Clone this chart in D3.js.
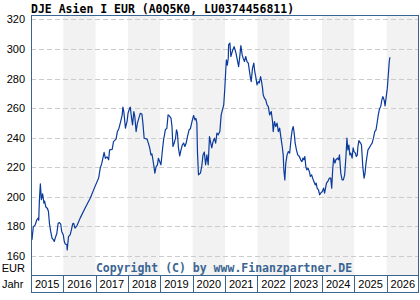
<!DOCTYPE html>
<html>
<head>
<meta charset="utf-8">
<script src="https://cdn.jsdelivr.net/npm/d3@7.9.0/dist/d3.min.js"></script>
<style>
  body { margin: 0; background: #fff; }
  svg { display: block; }
</style>
</head>
<body>
<div id="chart"></div>
<script>
// chart values (decimal year, price in EUR)
const years = [
  2015.03, 2015.07, 2015.13, 2015.18, 2015.22, 2015.24, 2015.26, 2015.29, 2015.32, 2015.36,
  2015.40, 2015.42, 2015.46, 2015.51, 2015.54, 2015.57, 2015.61, 2015.65, 2015.69, 2015.72,
  2015.75, 2015.80, 2015.84, 2015.88, 2015.92, 2015.95, 2016.00, 2016.03, 2016.06, 2016.11,
  2016.12, 2016.16, 2016.21, 2016.25, 2016.29, 2016.32, 2016.36, 2016.42, 2016.52, 2016.67,
  2016.83, 2016.98, 2017.09, 2017.14, 2017.19, 2017.26, 2017.30, 2017.35, 2017.40, 2017.43,
  2017.51, 2017.55, 2017.63, 2017.67, 2017.72, 2017.76, 2017.82, 2017.84, 2017.87, 2017.90,
  2017.92, 2017.97, 2018.00, 2018.05, 2018.07, 2018.11, 2018.14, 2018.18, 2018.21, 2018.25,
  2018.29, 2018.35, 2018.38, 2018.43, 2018.46, 2018.50, 2018.59, 2018.63, 2018.67, 2018.71,
  2018.74, 2018.77, 2018.81, 2018.83, 2018.87, 2018.91, 2018.94, 2018.98, 2019.02, 2019.06,
  2019.10, 2019.16, 2019.20, 2019.24, 2019.28, 2019.33, 2019.36, 2019.39, 2019.43, 2019.47,
  2019.50, 2019.53, 2019.56, 2019.60, 2019.64, 2019.68, 2019.72, 2019.76, 2019.80, 2019.84,
  2019.89, 2019.93, 2019.98, 2020.03, 2020.07, 2020.10, 2020.13, 2020.15, 2020.18, 2020.24,
  2020.28, 2020.32, 2020.36, 2020.40, 2020.44, 2020.48, 2020.52, 2020.55, 2020.59, 2020.63,
  2020.67, 2020.71, 2020.75, 2020.79, 2020.84, 2020.88, 2020.92, 2020.96, 2020.99, 2021.02,
  2021.04, 2021.07, 2021.10, 2021.11, 2021.15, 2021.18, 2021.21, 2021.24, 2021.28, 2021.32,
  2021.35, 2021.39, 2021.42, 2021.45, 2021.49, 2021.53, 2021.56, 2021.60, 2021.64, 2021.68,
  2021.72, 2021.75, 2021.78, 2021.81, 2021.85, 2021.89, 2021.92, 2021.95, 2021.99, 2022.03,
  2022.06, 2022.10, 2022.13, 2022.16, 2022.18, 2022.22, 2022.26, 2022.30, 2022.34, 2022.38,
  2022.43, 2022.47, 2022.49, 2022.53, 2022.57, 2022.61, 2022.65, 2022.69, 2022.73, 2022.77,
  2022.80, 2022.82, 2022.85, 2022.88, 2022.92, 2022.96, 2023.00, 2023.05, 2023.08, 2023.11,
  2023.14, 2023.17, 2023.21, 2023.25, 2023.30, 2023.34, 2023.38, 2023.41, 2023.44, 2023.47,
  2023.50, 2023.53, 2023.57, 2023.61, 2023.64, 2023.68, 2023.71, 2023.75, 2023.79, 2023.82,
  2023.85, 2023.89, 2023.93, 2023.96, 2024.01, 2024.05, 2024.08, 2024.11, 2024.14, 2024.18,
  2024.23, 2024.27, 2024.30, 2024.33, 2024.36, 2024.40, 2024.43, 2024.48, 2024.51, 2024.54,
  2024.58, 2024.62, 2024.66, 2024.70, 2024.74, 2024.77, 2024.80, 2024.83, 2024.86, 2024.89,
  2024.93, 2024.96, 2024.99, 2025.03, 2025.06, 2025.09, 2025.11, 2025.14, 2025.19, 2025.22,
  2025.26, 2025.30, 2025.33, 2025.36, 2025.39, 2025.42, 2025.46, 2025.51, 2025.55, 2025.59,
  2025.63, 2025.67, 2025.71, 2025.74, 2025.77, 2025.82, 2025.85, 2025.88, 2025.92, 2025.95,
  2025.98, 2026.02, 2026.05, 2026.08, 2026.10
];
const prices = [
  170.8, 179.4, 181.0, 184.4, 185.5, 184.0, 197.9, 208.7, 198.0, 202.0,
  195.7, 197.0, 193.0, 192.0, 190.0, 182.0, 176.5, 172.0, 171.0, 169.7,
  172.0, 175.3, 182.0, 182.5, 181.5, 176.5, 174.0, 169.7, 168.0, 167.5,
  164.0, 173.0, 174.2, 177.6, 181.7, 182.0, 178.7, 180.3, 185.5, 192.2,
  199.0, 207.0, 212.6, 219.3, 222.7, 230.0, 226.0, 227.0, 225.0, 231.7,
  232.0, 237.3, 239.0, 244.0, 246.4, 249.8, 255.4, 260.6, 257.6, 250.9,
  246.4, 251.0, 256.5, 260.0, 260.6, 253.2, 248.6, 257.6, 254.2, 244.1,
  249.8, 254.2, 256.5, 256.0, 249.8, 239.6, 239.0, 236.3, 233.0, 228.3,
  229.0, 225.0, 219.3, 216.0, 220.4, 221.6, 226.0, 223.8, 221.6, 230.6,
  238.5, 245.7, 246.0, 255.4, 254.7, 253.2, 247.5, 234.0, 236.3, 239.6,
  245.3, 243.0, 233.0, 227.7, 231.7, 235.0, 236.3, 234.0, 236.3, 240.7,
  245.3, 246.0, 250.9, 255.0, 252.0, 253.0, 249.8, 229.5, 214.8, 216.0,
  220.4, 228.3, 230.2, 221.6, 228.3, 221.6, 240.7, 237.3, 233.0, 237.3,
  239.6, 236.3, 243.0, 241.9, 244.1, 255.4, 258.8, 262.2, 272.3, 284.7,
  292.6, 289.0, 293.8, 302.8, 304.0, 294.9, 297.2, 299.4, 301.6, 298.7,
  296.0, 291.5, 288.0, 293.8, 302.3, 296.0, 293.8, 291.5, 294.9, 291.5,
  290.4, 285.8, 281.3, 277.9, 287.0, 290.4, 284.7, 281.3, 275.7, 277.9,
  277.0, 281.3, 278.0, 273.5, 269.0, 266.7, 265.5, 262.2, 261.0, 255.4,
  257.6, 250.9, 244.1, 250.9, 247.5, 249.8, 244.1, 246.4, 240.0, 234.0,
  228.3, 218.2, 211.4, 222.7, 228.3, 230.6, 229.5, 240.7, 245.3, 247.5,
  243.0, 236.3, 231.7, 228.3, 227.2, 225.0, 223.8, 226.1, 225.0, 227.2,
  220.4, 218.2, 219.3, 217.0, 213.7, 214.8, 212.6, 210.3, 208.0, 209.2,
  205.8, 204.7, 201.3, 202.4, 203.5, 205.8, 202.4, 205.8, 209.2, 210.3,
  212.6, 212.6, 205.8, 218.2, 226.1, 222.7, 225.0, 226.1, 225.0, 228.3,
  216.0, 211.4, 211.4, 214.8, 227.2, 239.6, 231.7, 235.0, 228.3, 229.5,
  226.1, 233.0, 230.6, 229.5, 227.2, 228.3, 234.0, 238.0, 236.3, 235.0,
  220.4, 212.6, 216.0, 222.7, 227.2, 231.7, 233.0, 235.0, 236.3, 239.6,
  244.1, 245.3, 250.9, 255.4, 258.8, 261.5, 265.5, 267.8, 265.5, 261.5,
  266.7, 273.5, 282.5, 291.5, 294.4
];
const yTicks = [160, 180, 200, 220, 240, 260, 280, 300, 320];
const yearLabels = ["2015", "2016", "2017", "2018", "2019", "2020", "2021",
  "2022", "2023", "2024", "2025", "2026"];

const title = "DJE Asien I EUR (A0Q5K0, LU0374456811)";
const copyright = "Copyright (C) by www.Finanzpartner.DE";

const width = 420, height = 300;
const margin = { top: 15, right: 1, bottom: 25, left: 31 };
const plotW = width - margin.left - margin.right;
const plotH = height - margin.top - margin.bottom;

const frameColor = "#3a6593";
const lineColor = "#0a3a9c";

function yearToDate(y) {
  const yr = Math.floor(y);
  const start = new Date(Date.UTC(yr, 0, 1));
  const end = new Date(Date.UTC(yr + 1, 0, 1));
  return new Date(start.getTime() + (y - yr) * (end - start));
}

const data = years.map((y, i) => ({ date: yearToDate(y), value: prices[i] }));

const x = d3.scaleUtc()
  .domain([new Date(Date.UTC(2015, 0, 1)), new Date(Date.UTC(2027, 0, 1))])
  .range([margin.left, margin.left + plotW]);

const y = d3.scaleLinear()
  .domain([147, 323])
  .range([margin.top + plotH, margin.top]);

const svg = d3.select("#chart")
  .append("svg")
  .attr("width", width)
  .attr("height", height)
  .style("font-family", "'Liberation Sans', Arial, sans-serif");

// year stripes (even years shaded)
const yearStarts = yearLabels.map((d) => new Date(Date.UTC(+d, 0, 1)));
svg.append("g")
  .selectAll("rect")
  .data(yearStarts)
  .join("rect")
  .attr("x", (d) => x(d))
  .attr("y", margin.top)
  .attr("width", (d) => x(d3.utcYear.offset(d, 1)) - x(d))
  .attr("height", plotH)
  .attr("fill", (d) => (d.getUTCFullYear() % 2 === 0 ? "#f2f2f2" : "#fff"));

// dashed grid
svg.append("g")
  .selectAll("line")
  .data(yTicks)
  .join("line")
  .attr("x1", margin.left)
  .attr("x2", margin.left + plotW)
  .attr("y1", (d) => Math.round(y(d)) + 0.5)
  .attr("y2", (d) => Math.round(y(d)) + 0.5)
  .attr("stroke", "#cccccc")
  .attr("stroke-dasharray", "5,3");

// y labels
svg.append("g")
  .selectAll("text")
  .data(yTicks)
  .join("text")
  .attr("x", 25)
  .attr("y", (d) => y(d) + 4)
  .attr("text-anchor", "end")
  .attr("font-size", 11)
  .attr("fill", "#000")
  .text((d) => d);

svg.append("text")
  .attr("x", 25)
  .attr("y", 272)
  .attr("text-anchor", "end")
  .attr("font-size", 11)
  .text("EUR");

// copyright
svg.append("text")
  .attr("x", 224)
  .attr("y", 271.5)
  .attr("text-anchor", "middle")
  .attr("font-family", "'DejaVu Sans Mono', monospace")
  .attr("font-weight", "bold")
  .attr("font-size", 11.5)
  .attr("fill", "#3a6593")
  .text(copyright);

// price line
const line = d3.line()
  .x((d) => x(d.date))
  .y((d) => y(d.value));

svg.append("path")
  .datum(data)
  .attr("fill", "none")
  .attr("stroke", lineColor)
  .attr("stroke-width", 1.2)
  .attr("stroke-linejoin", "round")
  .attr("d", line);

// plot frame
svg.append("rect")
  .attr("x", margin.left + 0.5)
  .attr("y", margin.top + 0.5)
  .attr("width", plotW - 1)
  .attr("height", plotH)
  .attr("fill", "none")
  .attr("stroke", frameColor);

// x axis boxes
const axisTop = margin.top + plotH;
const axisH = 17;
const xg = svg.append("g");
xg.selectAll("rect")
  .data(yearStarts)
  .join("rect")
  .attr("x", (d) => Math.round(x(d)) + 0.5)
  .attr("y", axisTop + 0.5)
  .attr("width", (d) => Math.round(x(d3.utcYear.offset(d, 1))) - Math.round(x(d)) - (d.getUTCFullYear() === 2026 ? 1 : 0))
  .attr("height", axisH)
  .attr("fill", "#fff")
  .attr("stroke", frameColor);

xg.selectAll("text")
  .data(yearStarts)
  .join("text")
  .attr("x", (d) => (x(d) + x(d3.utcYear.offset(d, 1))) / 2)
  .attr("y", axisTop + 13)
  .attr("text-anchor", "middle")
  .attr("font-size", 11)
  .attr("fill", "#000")
  .text((d, i) => yearLabels[i]);

svg.append("text")
  .attr("x", 2)
  .attr("y", axisTop + 13)
  .attr("font-size", 11)
  .text("Jahr");

// title
svg.append("text")
  .attr("x", 31)
  .attr("y", 12.5)
  .attr("font-family", "'DejaVu Sans Mono', monospace")
  .attr("font-weight", "bold")
  .attr("font-size", 11.5)
  .attr("fill", "#000")
  .text(title);
</script>
</body>
</html>
